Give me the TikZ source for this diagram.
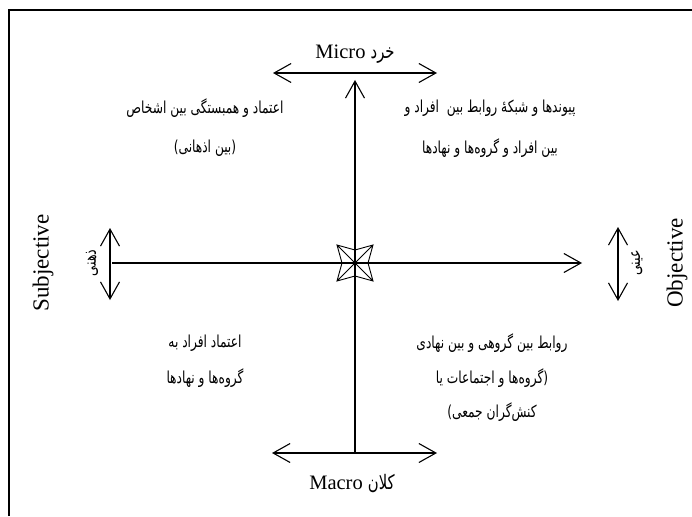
\documentclass[tikz,border=0pt]{standalone}
\usepackage{fontspec}
\usepackage{graphicx}
\setmainfont{Liberation Serif}
\newfontfamily\arabicfont[Script=Arabic]{DejaVu Sans}
\TeXXeTstate=1
\usetikzlibrary{arrows.meta}
\newcommand{\fa}[1]{{\arabicfont\beginR #1\endR}}
\newcommand{\fas}[1]{\scalebox{0.74}[1]{\fa{#1}}}
\begin{document}
\begin{tikzpicture}[x=1pt,y=-1pt,
  axis/.style={line width=1.1pt},
  tipend/.style={-{Straight Barb[length=17pt,width=19pt]}},
  dtip/.style={{Straight Barb[length=17pt,width=19pt]}-{Straight Barb[length=17pt,width=19pt]}},
  fatext/.style={font=\fontsize{16.5}{20}\selectfont, inner sep=0pt},
  latbig/.style={font=\fontsize{20.5}{24}\selectfont, inner sep=0pt},
  latside/.style={font=\fontsize{23}{27}\selectfont, inner sep=0pt, rotate=90},
  faside/.style={font=\fontsize{17}{20}\selectfont, inner sep=0pt, rotate=90}
]
\useasboundingbox (0,0) rectangle (692,516);
% frame (top and left)
\draw[line width=2.2pt] (9,516) -- (9,10) -- (692,10);

% coordinates
\coordinate (C) at (355,263);
\coordinate (T) at (355,80);
\coordinate (B) at (355,453);
\coordinate (L) at (112,263);
\coordinate (R) at (582,263);
\coordinate (TL) at (273,73);
\coordinate (TR) at (437,73);
\coordinate (BL) at (272,453);
\coordinate (BR) at (437,453);
\coordinate (LU) at (110,228);
\coordinate (LD) at (110,300);
\coordinate (RU) at (618,227);
\coordinate (RD) at (618,301);

% axes
\draw[axis,tipend] (B) -- (T);
\draw[axis,tipend] (L) -- (R);
\draw[axis,dtip] (TL) -- (TR);
\draw[axis,dtip] (BL) -- (BR);
\draw[axis,dtip] (LU) -- (LD);
\draw[axis,dtip] (RU) -- (RD);

% center star
\draw[line width=0.9pt, line join=miter, shift={(C)}]
  (-18,-18) -- (0,-13) -- (18,-18) -- (13,0) -- (18,18) -- (0,13) -- (-18,18) -- (-13,0) -- cycle
  (-18,-18) -- (18,18) (18,-18) -- (-18,18);

% axis labels
\node[latbig] (micro) at (355,54) {Micro {\fontsize{20}{24}\fas{خرد}}};
\node[latbig] (macro) at (352,484) {Macro {\fontsize{20}{24}\fas{کلان}}};
\node[latside] (subj) at (43,263) {Subjective};
\node[faside] (zehni) at (92,263) {\fas{ذهنی}};
\node[latside] (obj) at (677,263) {Objective};
\node[faside] (eini) at (637,263) {\fas{عینی}};

% quadrant texts
\node[fatext] (tl1) at (205,108) {\fas{اعتماد و همبستگی بین اشخاص}};
\node[fatext] (tl2) at (205,148) {\fas{(بین اذهانی)}};
\node[fatext] (tr1) at (490,108) {\fas{پیوندها و شبکهٔ روابط بین~ افراد و}};
\node[fatext] (tr2) at (490,148) {\fas{بین افراد و گروه‌ها و نهادها}};
\node[fatext] (bl1) at (205,343) {\fas{اعتماد افراد به}};
\node[fatext] (bl2) at (205,378) {\fas{گروه‌ها و نهادها}};
\node[fatext] (br1) at (492,343) {\fas{روابط بین گروهی و بین نهادی}};
\node[fatext] (br2) at (492,378) {\fas{(گروه‌ها و اجتماعات یا}};
\node[fatext] (br3) at (492,412) {\fas{کنش‌گران جمعی)}};
\end{tikzpicture}
\end{document}
